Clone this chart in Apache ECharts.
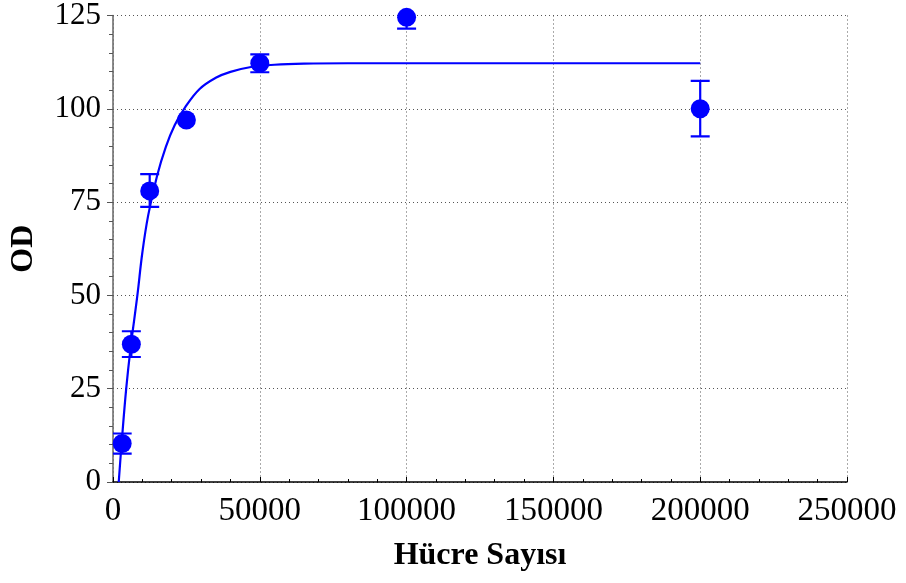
<!DOCTYPE html>
<html>
<head>
<meta charset="utf-8">
<script src="https://cdn.jsdelivr.net/npm/echarts@6/dist/echarts.min.js"></script>
<style>html,body{margin:0;padding:0;background:#fff;}#c{width:906px;height:583px;}</style>
</head>
<body>
<div id="c"></div>
<script>
// Measured points
var cellCounts = [3125, 6250, 12500, 25000, 50000, 100000, 200000];
var odValues   = [10.3, 36.9, 78.0, 97.0, 112.2, 124.5, 100.0];
var errLow     = [7.6, 33.5, 73.7, null, 109.8, 121.5, 92.6];
var errHigh    = [13.0, 40.4, 82.5, null, 114.6, 127.5, 107.5];
// Fitted curve
var curveX = [1950, 3000, 4500, 6000, 8300, 10000, 12000, 15000, 18000, 21000, 24500, 29500, 35000, 40000, 47000, 55000, 65000, 80000, 100000, 150000, 200000];
var curveY = [0, 11, 25, 36, 50, 61.5, 71.5, 82, 89.8, 95.6, 100.3, 105.3, 108.3, 109.9, 111.2, 111.8, 112.1, 112.2, 112.2, 112.2, 112.2];
// Axis ticks
var xTicks = [0, 50000, 100000, 150000, 200000, 250000];
var yTicks = [0, 25, 50, 75, 100, 125];

var BLUE = '#0000ff';
var FONT = 'Liberation Serif';

var points = cellCounts.map(function (x, i) { return [x, odValues[i]]; });
var errData = [];
cellCounts.forEach(function (x, i) {
  if (errLow[i] != null) errData.push([x, errLow[i], errHigh[i]]);
});
var curve = curveX.map(function (x, i) { return [x, curveY[i]]; });

var chart = echarts.init(document.getElementById('c'), null, {renderer: 'canvas'});
chart.setOption({
  animation: false,
  backgroundColor: '#fff',
  grid: {left: 113, right: 59, top: 12, bottom: 101, containLabel: false},
  xAxis: {
    type: 'value',
    min: xTicks[0], max: xTicks[xTicks.length - 1], interval: 50000,
    name: 'Hücre Sayısı', nameLocation: 'middle', nameGap: 58,
    nameTextStyle: {fontFamily: FONT, fontSize: 32, fontWeight: 'bold', color: '#000'},
    axisLine: {show: true, onZero: false, lineStyle: {color: '#000', width: 1.5}},
    axisTick: {show: true, inside: true, length: 5, lineStyle: {color: '#000'}},
    minorTick: {show: true, splitNumber: 5, length: 3, lineStyle: {color: '#000'}},
    axisLabel: {fontFamily: FONT, fontSize: 33, color: '#000', margin: 13,
      formatter: function (v) { return String(v); }},
    splitLine: {show: true, lineStyle: {color: '#555', type: [1, 3], width: 1}}
  },
  yAxis: {
    type: 'value',
    min: yTicks[0], max: yTicks[yTicks.length - 1], interval: 25,
    name: 'OD', nameLocation: 'middle', nameGap: 73, nameRotate: 90,
    nameTextStyle: {fontFamily: FONT, fontSize: 32, fontWeight: 'bold', color: '#000'},
    axisLine: {show: true, lineStyle: {color: '#666', width: 1.5}},
    axisTick: {show: true, inside: false, length: 6, lineStyle: {color: '#555'}},
    minorTick: {show: true, splitNumber: 5, length: 4, lineStyle: {color: '#555'}},
    axisLabel: {fontFamily: FONT, fontSize: 31, color: '#000', margin: 12},
    splitLine: {show: true, lineStyle: {color: '#555', type: [1, 3], width: 1}}
  },
  series: [
    {
      type: 'line', data: curve, showSymbol: false, symbol: 'none',
      smooth: 0.4,
      lineStyle: {color: BLUE, width: 2.2}, z: 2
    },
    {
      type: 'custom', data: errData, clip: true, z: 3,
      renderItem: function (params, api) {
        var x = api.value(0);
        var lo = api.coord([x, api.value(1)]);
        var hi = api.coord([x, api.value(2)]);
        var hw = 9.5;
        var st = {stroke: BLUE, lineWidth: 2.2};
        return {
          type: 'group',
          children: [
            {type: 'line', shape: {x1: lo[0], y1: lo[1], x2: hi[0], y2: hi[1]}, style: st},
            {type: 'line', shape: {x1: lo[0] - hw, y1: lo[1], x2: lo[0] + hw, y2: lo[1]}, style: st},
            {type: 'line', shape: {x1: hi[0] - hw, y1: hi[1], x2: hi[0] + hw, y2: hi[1]}, style: st}
          ]
        };
      }
    },
    {
      type: 'scatter', data: points, symbol: 'circle', symbolSize: 19,
      itemStyle: {color: BLUE, opacity: 1}, z: 4, clip: false
    }
  ]
});
</script>
</body>
</html>
